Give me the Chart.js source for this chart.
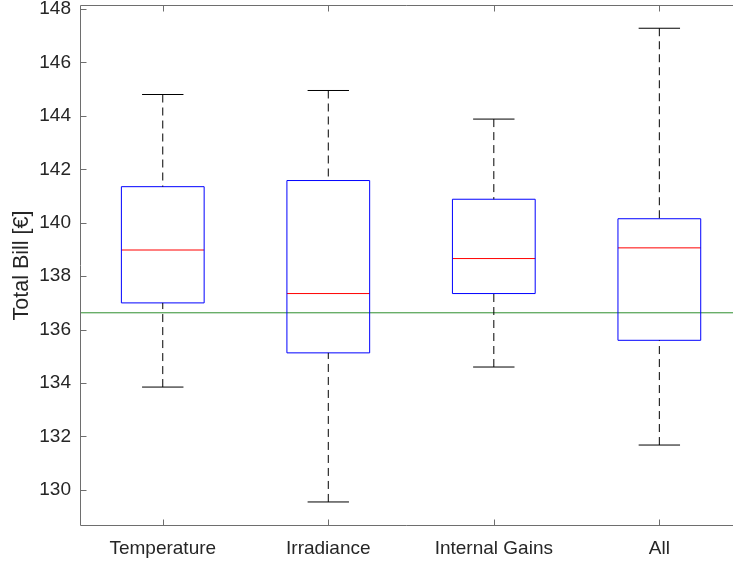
<!DOCTYPE html>
<html>
<head>
<meta charset="utf-8">
<script src="https://cdn.jsdelivr.net/npm/chart.js@4/dist/chart.umd.min.js"></script>
<style>
	html, body { margin: 0; padding: 0; background: #fff; overflow: hidden; }
</style>
</head>
<body>
<canvas id="myChart" width="733" height="562"></canvas>
<script>
// boxplot summary per scenario
var categories = ["Temperature", "Irradiance", "Internal Gains", "All"];
var whisker_low = [133.85, 129.55, 134.6, 131.68];
var box_low = [137.0, 135.13, 137.35, 135.6];
var medians = [138.98, 137.35, 138.66, 139.06];
var box_high = [141.35, 141.58, 140.88, 140.15];
var whisker_high = [144.8, 144.95, 143.88, 147.28];
var reference_bill = 136.63;
var y_ticks = [130, 132, 134, 136, 138, 140, 142, 144, 146, 148];

var axis_grey = "#6e6e6e";
var text_grey = "#262626";
var tick_font = { family: "Liberation Sans, Arial, sans-serif", size: 19 };
var label_font = { family: "Liberation Sans, Arial, sans-serif", size: 21.5 };

function line_set(pts, color, dash) {
	return {
		data: pts.map(function (p) { return {x: p[0], y: p[1]}; }),
		showLine: true,
		borderColor: color,
		borderWidth: 1,
		borderDash: dash || [],
		pointRadius: 0,
		fill: false
	};
}

var datasets = [];
for (var i = 0; i < categories.length; i++) {
	var x = i + 1;
	datasets.push(line_set([[x, whisker_high[i]], [x, box_high[i]]], "#000000", [8, 5]));
	datasets.push(line_set([[x, whisker_low[i]], [x, box_low[i]]], "#000000", [8, 5]));
	datasets.push(line_set([[x - 0.125, whisker_high[i]], [x + 0.125, whisker_high[i]]], "#000000"));
	datasets.push(line_set([[x - 0.125, whisker_low[i]], [x + 0.125, whisker_low[i]]], "#000000"));
	datasets.push(line_set([[x - 0.25, box_low[i]], [x + 0.25, box_low[i]]], "#0000ff"));
	datasets.push(line_set([[x - 0.25, box_high[i]], [x + 0.25, box_high[i]]], "#0000ff"));
	datasets.push(line_set([[x - 0.25, box_low[i]], [x - 0.25, box_high[i]]], "#0000ff"));
	datasets.push(line_set([[x + 0.25, box_low[i]], [x + 0.25, box_high[i]]], "#0000ff"));
	datasets.push(line_set([[x - 0.25, medians[i]], [x + 0.25, medians[i]]], "#ff0000"));
}
datasets.push(line_set([[0.5, reference_bill], [4.5, reference_bill]], "#2f8f2f"));

// MATLAB style frame with inward ticks (right side falls outside the window)
var frame = {
	id: "frame",
	afterDraw: function (chart) {
		var c = chart.ctx, a = chart.chartArea;
		var xs = chart.scales.x, ys = chart.scales.y;
		var l = Math.round(a.left) + 0.5, t = Math.round(a.top) + 0.5, b = Math.round(a.bottom) - 0.5;
		c.save();
		c.strokeStyle = axis_grey;
		c.lineWidth = 1;
		c.beginPath();
		c.moveTo(a.right, t); c.lineTo(l, t); c.lineTo(l, b); c.lineTo(a.right, b);
		y_ticks.forEach(function (v) {
			var py = Math.round(ys.getPixelForValue(v)) + 0.5;
			c.moveTo(l, py); c.lineTo(l + 6, py);
		});
		categories.forEach(function (n, k) {
			var px = Math.round(xs.getPixelForValue(k + 1)) + 0.5;
			c.moveTo(px, b); c.lineTo(px, b - 6);
			c.moveTo(px, t); c.lineTo(px, t + 6);
		});
		c.stroke();
		c.restore();
	}
};

var ctx = document.getElementById("myChart");
var myChart = new Chart(ctx, {
	type: "scatter",
	data: { datasets: datasets },
	options: {
		responsive: false,
		animation: false,
		devicePixelRatio: 1,
		layout: { padding: { top: 5, right: 0, bottom: 0, left: 0 } },
		plugins: {
			legend: { display: false },
			tooltip: { enabled: false }
		},
		scales: {
			x: {
				type: "linear",
				min: 0.5,
				max: 4.445,
				grid: { display: false, drawTicks: false },
				border: { display: false },
				afterBuildTicks: function (s) {
					s.ticks = categories.map(function (n, k) { return {value: k + 1}; });
				},
				afterFit: function (s) {
					s.height = 36;
					s.paddingLeft = 0; s.paddingRight = 0;
				},
				ticks: {
					padding: 11,
					color: text_grey,
					font: tick_font,
					maxRotation: 0,
					autoSkip: false,
					callback: function (v) { return categories[v - 1]; }
				}
			},
			y: {
				min: 128.65,
				max: 148.15,
				grid: { display: false, drawTicks: false },
				border: { display: false },
				afterBuildTicks: function (s) {
					s.ticks = y_ticks.map(function (v) { return {value: v}; });
				},
				afterFit: function (s) {
					s.width = 80;
					s.paddingTop = 0; s.paddingBottom = 0;
				},
				ticks: {
					padding: 9,
					color: text_grey,
					font: tick_font,
					callback: function (v) { return v; }
				},
				title: {
					display: true,
					text: "Total Bill [€]",
					color: text_grey,
					padding: { top: 9, bottom: 0 },
					font: label_font
				}
			}
		}
	},
	plugins: [frame]
});
</script>
</body>
</html>
